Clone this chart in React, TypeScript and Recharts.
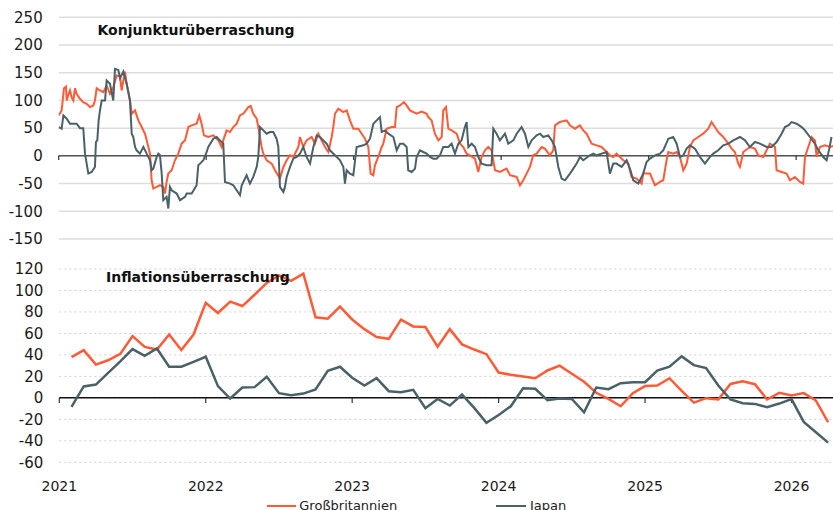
import React from 'react';
import { LineChart, Line, XAxis, YAxis, CartesianGrid, ReferenceLine } from 'recharts';

const FONT = '"DejaVu Sans", Lato, sans-serif';
const UK_COLOR = '#FF5A36';
const JP_COLOR = '#4A6168';

const yearTicks = [0, 12, 24, 36, 48, 60];
const yearLabels = ['2021', '2022', '2023', '2024', '2025', '2026'];
const topYTicks = [-150, -100, -50, 0, 50, 100, 150, 200, 250];
const bottomYTicks = [-60, -40, -20, 0, 20, 40, 60, 80, 100, 120];

// Konjunkturüberraschung – months since Jan 2021
const ukTopT = [0, 0.24, 0.43, 0.59, 0.65, 0.78, 0.92, 1.06, 1.19, 1.33, 1.46, 1.73, 2.0, 2.27, 2.55, 2.82, 2.95, 3.09, 3.36, 3.63, 3.9, 4.17, 4.44, 4.72, 4.99, 5.12, 5.39, 5.53, 5.8, 5.94, 6.21, 6.48, 6.75, 7.02, 7.16, 7.43, 7.56, 7.7, 7.97, 8.24, 8.51, 8.65, 8.78, 8.92, 9.19, 9.46, 9.73, 10.0, 10.28, 10.55, 10.82, 11.22, 11.44, 11.63, 11.82, 12.17, 12.58, 12.99, 13.26, 13.39, 13.66, 13.94, 14.21, 14.48, 14.75, 15.02, 15.43, 15.62, 15.83, 16.11, 16.24, 16.51, 16.65, 16.92, 17.33, 17.6, 18.0, 18.28, 18.55, 18.82, 19.09, 19.5, 19.63, 19.9, 20.17, 20.58, 20.85, 21.12, 21.39, 21.67, 21.94, 22.21, 22.34, 22.48, 22.75, 23.16, 23.43, 23.7, 23.97, 24.38, 24.65, 24.92, 25.19, 25.38, 25.6, 25.73, 26.0, 26.28, 26.41, 26.68, 27.09, 27.36, 27.5, 27.77, 28.09, 28.31, 28.58, 29.12, 29.53, 29.94, 30.07, 30.34, 30.61, 30.89, 31.16, 31.29, 31.51, 31.7, 31.97, 32.38, 32.65, 32.92, 33.19, 33.46, 33.87, 34.14, 34.41, 34.68, 34.95, 35.22, 35.5, 35.9, 36.44, 36.72, 37.26, 37.53, 37.8, 38.07, 38.34, 38.61, 38.89, 39.29, 39.56, 39.97, 40.24, 40.38, 40.78, 41.33, 41.6, 42.0, 42.41, 42.68, 42.95, 43.36, 43.77, 44.17, 44.58, 44.85, 45.12, 45.39, 45.66, 45.94, 46.34, 46.61, 47.02, 47.43, 47.56, 48.11, 48.51, 48.92, 49.19, 49.46, 49.6, 50.0, 50.28, 50.55, 50.82, 51.09, 51.36, 51.63, 52.04, 52.44, 52.85, 53.12, 53.39, 53.66, 54.07, 54.48, 54.75, 55.02, 55.29, 55.43, 55.7, 56.24, 56.65, 56.92, 57.33, 57.6, 57.87, 58.28, 58.41, 58.82, 59.22, 59.5, 59.9, 60.31, 60.58, 60.72, 60.99, 61.26, 61.53, 61.67, 61.94, 62.34, 62.75, 63.0];
const ukTopV = [73, 82, 122, 125, 100, 110, 118, 105, 100, 122, 112, 103, 97, 94, 88, 91, 100, 122, 118, 115, 127, 112, 124, 145, 143, 118, 152, 130, 100, 76, 82, 64, 52, 40, 28, 4, -44, -59, -56, -53, -56, -68, -47, -32, -26, -8, 4, 22, 28, 52, 55, 58, 73, 58, 37, 34, 37, 28, 16, 28, 46, 43, 52, 58, 73, 76, 88, 90, 76, 67, 52, 16, 4, -8, -14, -26, -41, -20, -8, 1, -2, 16, 34, 16, 28, 34, 22, 40, 28, 16, 7, 34, 52, 76, 85, 79, 82, 64, 49, 49, 40, 31, 16, -32, -35, -17, -2, 16, 22, 49, 52, 52, 88, 91, 97, 91, 82, 76, 80, 76, 70, 64, 40, 28, 34, 82, 88, 49, 46, 40, 22, 16, 4, 1, -5, -29, -2, 10, 16, 10, -26, -29, -23, -35, -38, -53, -44, -32, -20, 1, 4, 16, 13, 1, 10, 55, 61, 64, 55, 49, 55, 46, 40, 22, 19, 16, 7, 1, -2, 4, -2, -8, -14, -38, -41, -50, -32, -32, -53, -47, -44, -8, 7, 4, 7, -2, -26, -14, 16, 28, 34, 40, 49, 61, 52, 43, 34, 22, 13, 7, -14, -20, 7, 16, 13, 1, -2, 10, 22, 16, -26, -29, -32, -44, -38, -47, -50, -2, 16, 34, 28, -2, 16, 19, 16, 18];

const jpTopT = [0, 0.24, 0.38, 0.65, 0.92, 1.46, 1.73, 2.0, 2.14, 2.41, 2.68, 2.95, 3.03, 3.14, 3.25, 3.36, 3.5, 3.77, 3.9, 4.17, 4.44, 4.58, 4.85, 4.99, 5.26, 5.53, 5.8, 5.94, 6.07, 6.21, 6.34, 6.61, 6.89, 7.16, 7.43, 7.56, 7.7, 7.97, 8.11, 8.24, 8.38, 8.51, 8.78, 8.92, 9.05, 9.19, 9.6, 9.87, 10.28, 10.41, 10.82, 11.22, 11.36, 11.5, 11.77, 12.04, 12.17, 12.58, 12.85, 13.12, 13.39, 13.53, 13.94, 14.21, 14.48, 14.75, 14.89, 15.29, 15.56, 15.83, 16.11, 16.24, 16.38, 16.65, 16.92, 17.19, 17.46, 17.73, 17.87, 18.0, 18.28, 18.41, 18.55, 18.82, 19.09, 19.36, 19.63, 19.9, 20.17, 20.45, 20.72, 20.99, 21.26, 21.53, 21.8, 22.07, 22.48, 22.89, 23.16, 23.29, 23.43, 23.7, 23.97, 24.24, 24.78, 25.06, 25.33, 25.6, 25.87, 26.14, 26.28, 26.55, 26.82, 27.23, 27.5, 27.77, 28.04, 28.31, 28.44, 28.72, 28.99, 29.12, 29.39, 29.66, 29.94, 30.21, 30.48, 30.75, 31.02, 31.29, 31.7, 31.97, 32.24, 32.51, 32.78, 33.05, 33.19, 33.33, 33.6, 33.87, 34.14, 34.41, 34.82, 35.22, 35.36, 35.63, 35.9, 36.31, 36.58, 36.99, 37.26, 37.66, 37.94, 38.21, 38.48, 38.89, 39.16, 39.43, 39.83, 40.11, 40.38, 40.65, 40.92, 41.19, 41.6, 41.87, 42.14, 42.41, 42.68, 43.22, 43.5, 43.77, 44.17, 44.58, 44.85, 45.12, 45.39, 45.8, 46.21, 46.48, 46.75, 47.16, 47.56, 47.83, 48.11, 48.51, 48.92, 49.19, 49.6, 50.0, 50.28, 50.55, 50.82, 51.09, 51.36, 51.77, 52.17, 52.58, 52.99, 53.26, 53.66, 54.07, 54.48, 54.89, 55.43, 55.84, 56.24, 56.65, 57.06, 57.6, 58.0, 58.41, 58.82, 59.09, 59.36, 59.63, 60.04, 60.45, 60.72, 61.12, 61.53, 61.8, 62.21, 62.48, 62.7, 62.88];
const jpTopV = [52, 49, 73, 67, 58, 58, 50, 50, 4, -32, -29, -20, 25, 28, 64, 82, 100, 100, 136, 130, 100, 157, 155, 140, 152, 130, 100, 40, 34, 16, 10, 4, 16, 4, -8, -26, -23, -2, 4, 1, -32, -80, -74, -95, -56, -62, -68, -80, -74, -68, -68, -53, -17, -14, -8, 7, 16, 31, 34, 28, 22, -47, -50, -53, -62, -71, -53, -35, -50, -38, -20, -2, 52, 46, 40, 43, 43, 31, 16, -56, -65, -56, -38, -20, -5, -2, 4, 16, -2, -14, 16, 37, 34, 28, 22, 10, 1, -8, -20, -50, -26, -32, -35, 16, 19, 22, 31, 58, 64, 70, 43, 46, 40, 34, 10, 22, 22, 16, -26, -29, -23, -2, 10, 7, 4, -2, -5, -5, 1, 16, 16, 22, 4, 22, 28, 52, 61, 16, 22, 16, -2, -14, -17, -17, 49, 40, 28, 40, 22, 28, 40, 52, 40, 16, 28, 37, 40, 34, 37, 28, 16, -20, -41, -44, -32, -23, -14, -2, -8, 1, 4, 1, 4, 7, -32, -14, -14, -20, -8, -23, -44, -50, -32, -11, -5, 1, 4, 10, 31, 34, 22, -2, 1, 13, 19, 13, -2, -14, -2, 4, 10, 19, 22, 28, 34, 28, 16, 25, 22, 16, 16, 25, 40, 52, 55, 61, 58, 52, 46, 34, 22, 10, -2, -8, 13, 34];

// Inflationsüberraschung – monthly, month index since Jan 2021
const inflMonths = [1, 2, 3, 4, 5, 6, 7, 8, 9, 10, 11, 12, 13, 14, 15, 16, 17, 18, 19, 20, 21, 22, 23, 24, 25, 26, 27, 28, 29, 30, 31, 32, 33, 34, 35, 36, 37, 38, 39, 40, 41, 42, 43, 44, 45, 46, 47, 48, 49, 50, 51, 52, 53, 54, 55, 56, 57, 58, 59, 60, 61, 62, 63];
const ukInfl = [38, 44.5, 31, 35, 41, 57.5, 47.5, 45, 59, 44.5, 59, 88.6, 79, 89.6, 85.5, 96, 107, 114, 109, 115.7, 75, 73.7, 85, 73, 64, 56.6, 55, 72.8, 66.5, 66, 47.6, 64, 49.8, 45, 40.7, 23.6, 21.5, 20, 18.3, 25.5, 30, 22.4, 15, 4.7, -1, -7.8, 4.4, 11, 11.5, 18.3, 6.5, -4.4, -0.3, -1.5, 13, 15.5, 12.7, -1.5, 4.7, 2.2, 4.4, -2.5, -22.7];
const jpInfl = [-8.4, 10.6, 12.4, 23.3, 34, 45.4, 39.2, 46, 29, 29, 33.6, 38.3, 10.9, -0.6, 9.6, 10, 19.6, 4.4, 2.5, 4, 7.8, 25.2, 29, 18.7, 11.5, 18.3, 6.2, 5.3, 7.5, -9.6, -1, -7.2, 3.1, -9.3, -23.3, -15.9, -7.8, 9, 8.4, -2.2, -0.6, -1, -13.4, 9.6, 8.1, 13.7, 14.6, 14.6, 25.5, 29, 38.6, 30.5, 27.7, 11.5, -1.5, -5, -5.6, -8.7, -5.3, -1.2, -22.4, -32, -41.7];

const zip = (ts: number[], vs: number[]) =>
  ts.slice(0, Math.min(ts.length, vs.length)).map((t, i) => ({ t, v: vs[i] }));

const ukTop = zip(ukTopT, ukTopV);
const jpTop = zip(jpTopT, jpTopV);
const inflData = inflMonths.map((t, i) => ({ t, uk: ukInfl[i], jp: jpInfl[i] }));

const yTickStyle = { fill: '#1a1a1a', fontSize: 15, fontFamily: FONT };
const xTickStyle = { fill: '#1a1a1a', fontSize: 14, fontFamily: FONT };
const yearFmt = (v: number) => yearLabels[yearTicks.indexOf(v)] ?? '';

export default function App() {
  return (
    <div
      style={{
        position: 'absolute',
        left: 0,
        top: 0,
        width: 833,
        height: 510,
        overflow: 'hidden',
        background: '#fff',
        fontFamily: FONT,
      }}
    >
      <div style={{ position: 'absolute', left: 0, top: 0 }}>
        <LineChart width={833} height={250} margin={{ top: 17.3, right: 0, left: 0, bottom: 11 }}>
          <CartesianGrid vertical={false} stroke="#dddddd" strokeWidth={1.5} />
          <XAxis type="number" dataKey="t" domain={[0, 63]} hide allowDataOverflow />
          <YAxis
            type="number"
            domain={[-150, 250]}
            ticks={topYTicks}
            interval={0}
            width={58.7}
            axisLine={false}
            tickLine={false}
            tickSize={0}
            tickMargin={16}
            tick={yTickStyle}
          />
          <ReferenceLine y={0} stroke="#555" strokeWidth={1.5} />
          {yearTicks.map((x) => (
            <ReferenceLine key={x} segment={[{ x, y: 0 }, { x, y: -7.5 }]} stroke="#333" strokeWidth={1.2} />
          ))}
          <Line data={ukTop} dataKey="v" type="linear" stroke={UK_COLOR} strokeWidth={2} dot={false} isAnimationActive={false} />
          <Line data={jpTop} dataKey="v" type="linear" stroke={JP_COLOR} strokeWidth={2} dot={false} isAnimationActive={false} />
        </LineChart>
      </div>

      <div style={{ position: 'absolute', left: 0, top: 250 }}>
        <LineChart width={833} height={260} data={inflData} margin={{ top: 19, right: 0, left: 0, bottom: 0 }}>
          <CartesianGrid vertical={false} stroke="#d0d0d0" strokeDasharray="2 3" />
          <XAxis
            type="number"
            dataKey="t"
            domain={[0, 63.4]}
            ticks={yearTicks}
            interval={0}
            tickFormatter={yearFmt}
            height={47.7}
            axisLine={false}
            tickLine={false}
            tickSize={0}
            tickMargin={18.7}
            tick={xTickStyle}
            allowDataOverflow
          />
          <YAxis
            type="number"
            domain={[-60, 120]}
            ticks={bottomYTicks}
            interval={0}
            width={59.3}
            axisLine={false}
            tickLine={false}
            tickSize={0}
            tickMargin={16}
            tick={yTickStyle}
          />
          <ReferenceLine y={0} stroke="#111" strokeWidth={1.5} />
          {yearTicks.map((x) => (
            <ReferenceLine key={x} segment={[{ x, y: 0 }, { x, y: -4.7 }]} stroke="#333" strokeWidth={1.2} />
          ))}
          <Line dataKey="uk" type="linear" stroke={UK_COLOR} strokeWidth={2.5} dot={false} isAnimationActive={false} />
          <Line dataKey="jp" type="linear" stroke={JP_COLOR} strokeWidth={2.5} dot={false} isAnimationActive={false} />
        </LineChart>
      </div>

      <div style={{ position: 'absolute', left: 97.5, top: 21.8, fontSize: 14, fontWeight: 700, lineHeight: 1.2, color: '#111', whiteSpace: 'nowrap' }}>
        Konjunkturüberraschung
      </div>
      <div style={{ position: 'absolute', left: 106, top: 268.8, fontSize: 14, fontWeight: 700, lineHeight: 1.2, color: '#111', whiteSpace: 'nowrap' }}>
        Inflationsüberraschung
      </div>

      <div style={{ position: 'absolute', left: 266.7, top: 504.5, width: 29, height: 2.5, background: UK_COLOR }} />
      <div style={{ position: 'absolute', left: 299.3, top: 498.2, fontSize: 13, lineHeight: 1.2, color: '#222', whiteSpace: 'nowrap' }}>
        Großbritannien
      </div>
      <div style={{ position: 'absolute', left: 496, top: 504.5, width: 30, height: 2.5, background: JP_COLOR }} />
      <div style={{ position: 'absolute', left: 530, top: 498.2, fontSize: 13, lineHeight: 1.2, color: '#222', whiteSpace: 'nowrap' }}>
        Japan
      </div>
    </div>
  );
}
